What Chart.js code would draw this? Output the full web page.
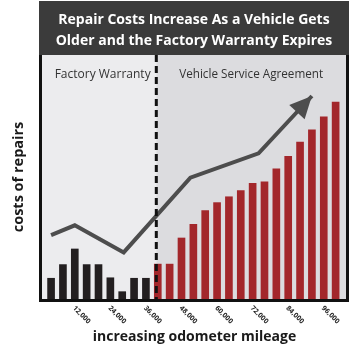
<!DOCTYPE html>
<html><head><meta charset="utf-8">
<script src="https://cdn.jsdelivr.net/npm/chart.js@4.4.1/dist/chart.umd.min.js"></script>
<style>html,body{margin:0;padding:0;background:#fff}#wrap{width:360px;height:357px}</style>
</head><body><div id="wrap"><canvas id="c" width="360" height="357"></canvas></div>
<script>
const titleLines = ["Repair Costs Increase As a Vehicle Gets", "Older and the Factory Warranty Expires"];
const xAxisTitle = "increasing odometer mileage";
const yAxisTitle = "costs of repairs";
const regionLabels = ["Factory Warranty", "Vehicle Service Agreement"];

const warrantyMileage = [4000, 8000, 12000, 16000, 20000, 24000, 28000, 32000, 36000];
const warrantyCosts = [8.5, 14.1, 20.5, 14.1, 14.1, 8.7, 3.0, 8.5, 8.5];

const vsaMileage = [40000, 44000, 48000, 52000, 56000, 60000, 64000, 68000, 72000, 76000, 80000, 84000, 88000, 92000, 96000, 100000];
const vsaCosts = [14.3, 14.3, 25.0, 30.6, 36.2, 39.5, 41.9, 44.4, 47.4, 48.0, 53.3, 58.5, 64.3, 69.3, 74.7, 80.7];

const trendMileage = [4000, 12000, 28500, 51000, 74000, 92000];
const trendCosts = [26.2, 30.2, 19.1, 49.7, 59.7, 83.2];

const tickMileage = [12000, 24000, 36000, 48000, 60000, 72000, 84000, 96000];
const tickLabels = ["12,000", "24,000", "36,000", "48,000", "60,000", "72,000", "84,000", "96,000"];

const warrantyEnd = 39500;

const FONT = '"Open Sans", "DejaVu Sans", sans-serif';

const decor = {
  id: 'decor',
  beforeDraw(chart) {
    const {ctx, chartArea: a} = chart;
    ctx.save();
    ctx.fillStyle = '#3b3b3b';
    ctx.fillRect(a.left - 2, 1, a.right - a.left + 5, a.top - 1);
    ctx.restore();
  },
  beforeDatasetsDraw(chart) {
    const {ctx, chartArea: a, scales} = chart;
    const xd = scales.x.getPixelForValue(warrantyEnd);
    ctx.save();
    ctx.fillStyle = '#ececee';
    ctx.fillRect(a.left, a.top, xd - a.left, a.bottom - a.top);
    ctx.fillStyle = '#dcdcdf';
    ctx.fillRect(xd, a.top, a.right - xd, a.bottom - a.top);
    ctx.restore();
  },
  afterDatasetsDraw(chart) {
    const {ctx, chartArea: a, scales} = chart;
    const xd = scales.x.getPixelForValue(warrantyEnd);
    ctx.save();
    // dashed divider
    ctx.strokeStyle = '#111';
    ctx.lineWidth = 3;
    ctx.setLineDash([7, 4]);
    ctx.beginPath();
    ctx.moveTo(xd, a.top);
    ctx.lineTo(xd, a.bottom);
    ctx.stroke();
    ctx.setLineDash([]);

    // arrow head on trend line
    const meta = chart.getDatasetMeta(2);
    const pts = meta.data;
    const p1 = pts[pts.length - 2], p2 = pts[pts.length - 1];
    const ang = Math.atan2(p2.y - p1.y, p2.x - p1.x);
    const L = 22, W = 10.5;
    ctx.fillStyle = '#4d4d4d';
    ctx.beginPath();
    ctx.moveTo(p2.x, p2.y);
    ctx.lineTo(p2.x - L * Math.cos(ang) + W * Math.sin(ang), p2.y - L * Math.sin(ang) - W * Math.cos(ang));
    ctx.lineTo(p2.x - L * Math.cos(ang) - W * Math.sin(ang), p2.y - L * Math.sin(ang) + W * Math.cos(ang));
    ctx.closePath();
    ctx.fill();

    // frame
    ctx.strokeStyle = '#111';
    ctx.lineWidth = 3;
    ctx.beginPath();
    ctx.moveTo(a.left - 0.5, a.top);
    ctx.lineTo(a.left - 0.5, a.bottom + 1.5);
    ctx.lineTo(a.right + 1.5, a.bottom + 1.5);
    ctx.lineTo(a.right + 1.5, a.top);
    ctx.stroke();

    // region labels
    ctx.fillStyle = '#333';
    ctx.font = '12px ' + FONT;
    ctx.textBaseline = 'middle';
    ctx.textAlign = 'center';
    ctx.fillText(regionLabels[0], (a.left + xd) / 2 + 4, 75);
    ctx.font = '11.7px ' + FONT;
    ctx.fillText(regionLabels[1], (xd + a.right) / 2 + 0, 75);

    // tick labels (rotated, reading down-right)
    ctx.fillStyle = '#222';
    ctx.font = 'bold 7px ' + FONT;
    ctx.textAlign = 'left';
    ctx.textBaseline = 'middle';
    tickMileage.forEach((m, i) => {
      const x = scales.x.getPixelForValue(m);
      ctx.save();
      ctx.translate(x - 1, a.bottom + 8);
      ctx.rotate(Math.PI / 4);
      ctx.fillText(tickLabels[i], 0, 0);
      ctx.restore();
    });

    // axis titles
    ctx.fillStyle = '#1a1a1a';
    ctx.font = 'bold 14px ' + FONT;
    ctx.textAlign = 'center';
    ctx.fillText(xAxisTitle, 194.5, 337);
    ctx.save();
    ctx.translate(19, (a.top + a.bottom) / 2);
    ctx.rotate(-Math.PI / 2);
    ctx.font = 'bold 14.5px ' + FONT;
    ctx.fillText(yAxisTitle, 0, 0);
    ctx.restore();

    // header title
    ctx.fillStyle = '#ffffff';
    ctx.font = 'bold 14px ' + FONT;
    ctx.textAlign = 'center';
    ctx.fillText(titleLines[0], 194, 20);
    ctx.fillText(titleLines[1], 194, 41);
    ctx.restore();
  }
};

new Chart(document.getElementById('c'), {
  type: 'bar',
  data: {
    datasets: [
      {
        label: 'Factory Warranty',
        data: warrantyMileage.map((m, i) => ({x: m, y: warrantyCosts[i]})),
        backgroundColor: '#231f20',
        barThickness: 7,
        grouped: false,
        order: 2
      },
      {
        label: 'Vehicle Service Agreement',
        data: vsaMileage.map((m, i) => ({x: m, y: vsaCosts[i]})),
        backgroundColor: '#a3272b',
        barThickness: 7,
        grouped: false,
        order: 2
      },
      {
        type: 'line',
        label: 'Trend',
        data: trendMileage.map((m, i) => ({x: m, y: trendCosts[i]})),
        borderColor: '#4d4d4d',
        borderWidth: 4,
        pointRadius: 0,
        tension: 0,
        fill: false,
        order: 0
      }
    ]
  },
  options: {
    responsive: false,
    animation: false,
    devicePixelRatio: 1,
    layout: {padding: {left: 41, right: 14, top: 55, bottom: 58}},
    plugins: {legend: {display: false}, tooltip: {enabled: false}, title: {display: false}},
    scales: {
      x: {type: 'linear', display: false, min: 600, max: 103500, offset: false},
      y: {display: false, min: 0, max: 100}
    }
  },
  plugins: [decor]
});
</script>
</body></html>
